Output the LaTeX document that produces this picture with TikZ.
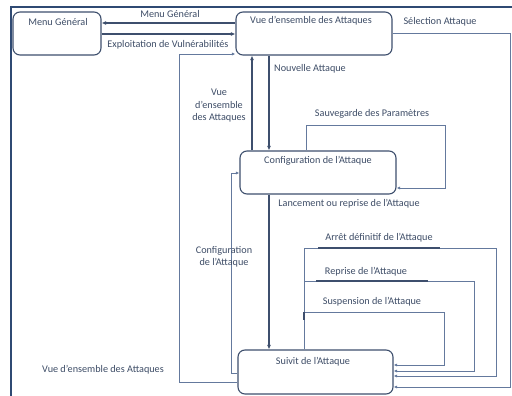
\documentclass[tikz,border=0pt]{standalone}
\usepackage{fontspec}
\setmainfont{Carlito}
\usetikzlibrary{arrows.meta}
\definecolor{txt}{HTML}{3D4C66}
\definecolor{ln}{HTML}{3E4F6D}
\definecolor{lnl}{HTML}{64799D}
\definecolor{frm}{HTML}{2F4A73}
\begin{document}
\begin{tikzpicture}[x=1pt,y=-1pt,
  box/.style={draw=ln, line width=1.1pt, rounded corners=7pt, inner sep=0pt},
  lbl/.style={text=txt, font=\fontsize{10.2}{12.5}\selectfont, inner sep=0pt, align=center},
  arr/.style={draw=ln, line width=1.2pt, -{Latex[length=4.5pt,width=4pt]}},
  arrl/.style={draw=lnl, line width=0.95pt, -{Latex[length=3.5pt,width=3pt]}},
  darkseg/.style={draw=ln, line width=1.4pt}]
\useasboundingbox (0,0) rectangle (512,396);
% frame
\draw[frm, line width=2pt] (10,7) -- (512,7);
\draw[frm, line width=1.5pt] (11,6) -- (11,396);
% boxes
\node[box, minimum width=88pt, minimum height=43pt] (menu) at (57,33.5) {};
\node[box, minimum width=156pt, minimum height=43pt] (vue) at (314,33.5) {};
\node[box, minimum width=156pt, minimum height=43pt] (conf) at (318,172.5) {};
\node[box, minimum width=155pt, minimum height=44pt] (suiv) at (315.5,372) {};
% box texts
\node[lbl] (tmenu) at (58,22) {Menu Général};
\node[lbl] (tvue) at (311,21) {Vue d’ensemble des Attaques};
\node[lbl] (tconf) at (318,161) {Configuration de l’Attaque};
\node[lbl] (tsuiv) at (313,362) {Suivit de l’Attaque};
% connectors
\draw[arr] (vue.west |- 0,23) -- (menu.east |- 0,23);
\draw[arr] (menu.east |- 0,34) -- (vue.west |- 0,34);
\draw[arrl] (vue.east |- 0,33) -- (510,33) -- (510,387) -- (suiv.east |- 0,387);
\draw[arr] (conf.north -| 252,0) -- (vue.south -| 252,0);
\draw[arr] (vue.south -| 269,0) -- (conf.north -| 269,0);
\draw[arr] (conf.south -| 269,0) -- (suiv.north -| 269,0);
\draw[arrl] (conf.north -| 306,0) -- (306,125) -- (445,125) -- (445,188) -- (conf.east |- 0,188);
\draw[arrl] (suiv.west |- 0,373) -- (231,373) -- (231,173) -- (conf.west |- 0,173);
\draw[arrl] (suiv.west |- 0,382) -- (179,382) -- (179,54) -- (vue.west |- 0,54);
\draw[arrl] (suiv.north -| 304,0) -- (304,248) -- (496,248) -- (496,376) -- (suiv.east |- 0,376);
\draw[arrl] (suiv.north -| 304,0) -- (304,281) -- (474,281) -- (474,371) -- (suiv.east |- 0,371);
\draw[arrl] (suiv.north -| 304,0) -- (304,312) -- (444,312) -- (444,365) -- (suiv.east |- 0,365);
\draw[darkseg] (318,248) -- (440,248);
\draw[darkseg] (316,281) -- (428,281);
\draw[darkseg] (304,312) -- (304,320);
% labels
\node[lbl] (l1) at (170,14) {Menu Général};
\node[lbl] (l2) at (168,45) {Exploitation de Vulnérabilités};
\node[lbl] (l3) at (440,22) {Sélection Attaque};
\node[lbl] (l4) at (310,69) {Nouvelle Attaque};
\node[lbl] (l5) at (219,106) {Vue\\d’ensemble\\des Attaques};
\node[lbl] (l6) at (372,114) {Sauvegarde des Paramètres};
\node[lbl] (l7) at (349,204) {Lancement ou reprise de l’Attaque};
\node[lbl] (l8) at (224,257) {Configuration\\de l’Attaque};
\node[lbl] (l9) at (103,370) {Vue d’ensemble des Attaques};
\node[lbl] (l10) at (379,238) {Arrêt définitif de l’Attaque};
\node[lbl] (l11) at (366,272) {Reprise de l’Attaque};
\node[lbl] (l12) at (372,302) {Suspension de l’Attaque};
\end{tikzpicture}
\end{document}
